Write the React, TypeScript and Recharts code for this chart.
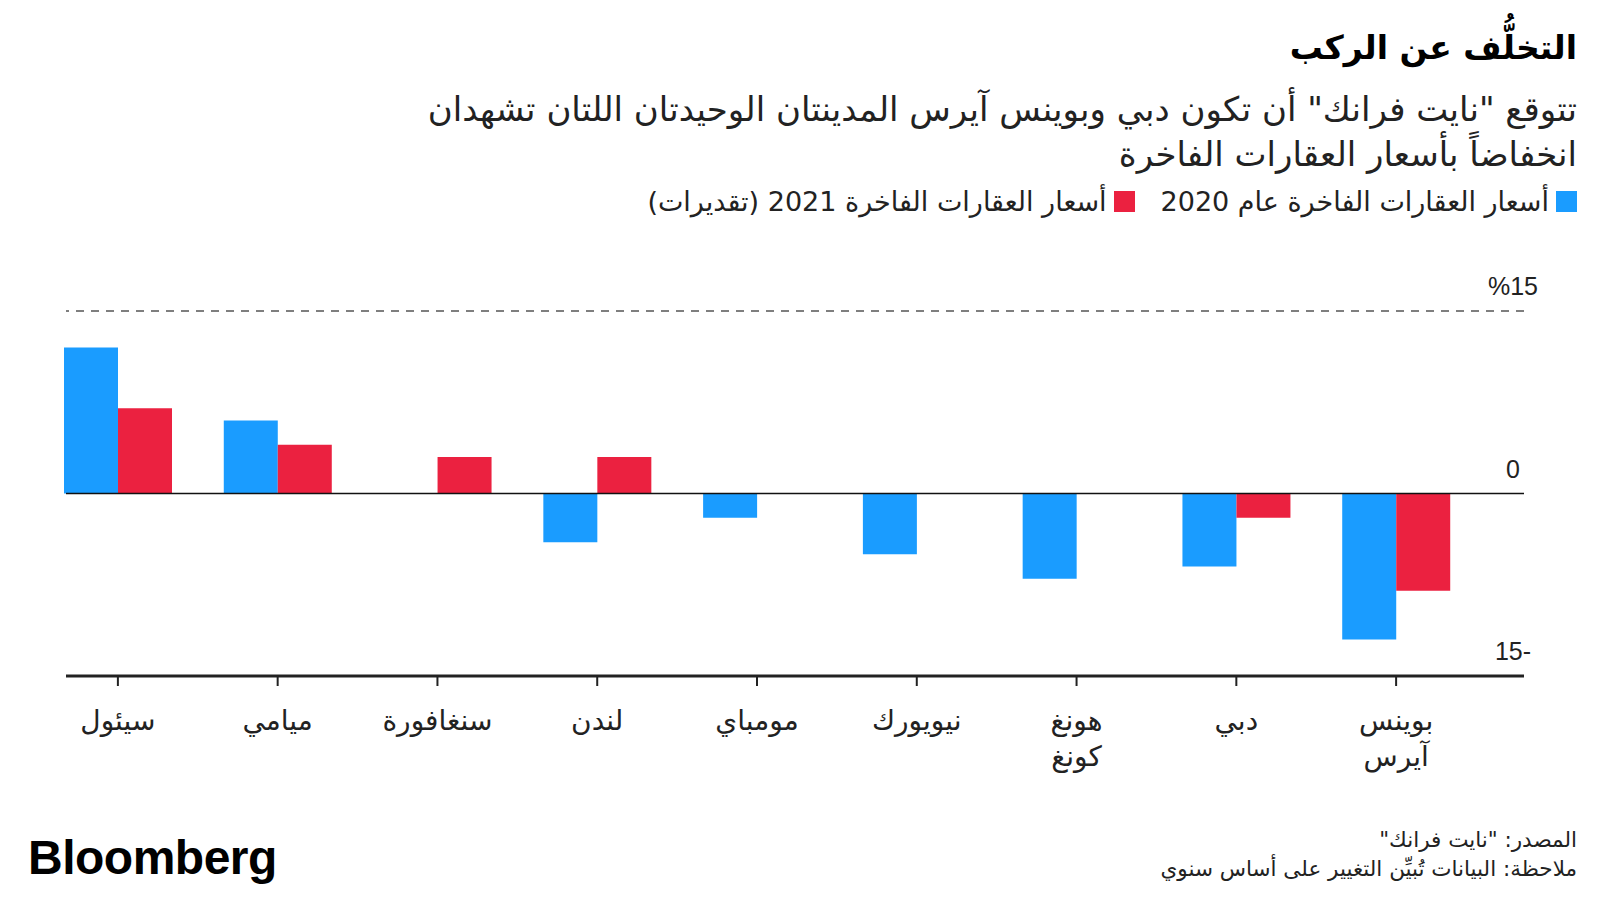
import React from 'react';
import { BarChart, Bar, XAxis, YAxis, ReferenceLine } from 'recharts';

const cities = ['سيئول', 'ميامي', 'سنغافورة', 'لندن', 'مومباي', 'نيويورك', 'هونغ كونغ', 'دبي', 'بوينس آيرس'];
const prices2020 = [12, 6, 0, -4, -2, -5, -7, -6, -12];
const prices2021 = [7, 4, 3, 3, 0, 0, 0, -2, -8];
const yTicks = [-15, 0, 15];
const yTickLabels = ['15-', '0', '%15'];
const seriesNames = ['أسعار العقارات الفاخرة عام 2020', 'أسعار العقارات الفاخرة 2021 (تقديرات)'];
const seriesColors = ['#1a9cff', '#eb2140'];

const title = 'التخلُّف عن الركب';
const subtitle1 = 'تتوقع "نايت فرانك" أن تكون دبي وبوينس آيرس المدينتان الوحيدتان اللتان تشهدان';
const subtitle2 = 'انخفاضاً بأسعار العقارات الفاخرة';
const source = 'المصدر: "نايت فرانك"';
const note = 'ملاحظة: البيانات تُبيِّن التغيير على أساس سنوي';

const data = cities.map((c, i) => ({ city: c, v2020: prices2020[i], v2021: prices2021[i] }));

const AR = "'DejaVu Sans', sans-serif";

const XTick = (props: any) => {
  const { x, y, payload } = props;
  const lines = String(payload.value).split(' ');
  return (
    <g>
      {lines.map((l, i) => (
        <text key={i} x={x} y={y + 42 + i * 36} textAnchor="middle" fontFamily={AR} fontSize={28} fill="#222" direction="rtl">
          {l}
        </text>
      ))}
    </g>
  );
};

const YTick = (props: any) => {
  const { y, payload } = props;
  const idx = yTicks.indexOf(payload.value);
  return (
    <text x={1513} y={y - 16} textAnchor="middle" fontFamily="'Liberation Sans', Arial, sans-serif" fontSize={25} fill="#222">
      {yTickLabels[idx]}
    </text>
  );
};

export default function App() {
  return (
    <div style={{ position: 'absolute', left: 0, top: 0, width: 1600, height: 900, background: '#fff', overflow: 'hidden' }}>
      <div dir="rtl" style={{ position: 'absolute', right: 23, top: 28, fontFamily: AR, fontWeight: 'bold', fontSize: 33, color: '#000', whiteSpace: 'nowrap' }}>
        {title}
      </div>
      <div dir="rtl" style={{ position: 'absolute', right: 23, top: 87, fontFamily: AR, fontSize: 34, lineHeight: '45px', color: '#222', whiteSpace: 'nowrap' }}>
        <div>{subtitle1}</div>
        <div>{subtitle2}</div>
      </div>
      <div dir="rtl" style={{ position: 'absolute', right: 23, top: 186, display: 'flex', alignItems: 'center', fontFamily: AR, fontSize: 27, color: '#222', whiteSpace: 'nowrap' }}>
        {seriesNames.map((n, i) => (
          <div key={i} style={{ display: 'flex', alignItems: 'center', marginLeft: 26 }}>
            <span style={{ display: 'inline-block', width: 21, height: 21, background: seriesColors[i], marginLeft: 7 }} />
            <span>{n}</span>
          </div>
        ))}
      </div>

      <div style={{ position: 'absolute', left: 0, top: 0 }}>
        <BarChart width={1600} height={900} data={data} margin={{ top: 311, right: 0, bottom: 144, left: 66 }} barGap={0} barSize={54}>
          <XAxis
            dataKey="city"
            height={80}
            padding={{ left: -28, right: 48 }}
            axisLine={{ stroke: '#222', strokeWidth: 3 }}
            tickLine={{ stroke: '#222', strokeWidth: 2 }}
            tickSize={10}
            tick={<XTick />}
            interval={0}
          />
          <YAxis
            orientation="right"
            width={76}
            domain={[-15, 15]}
            ticks={yTicks}
            axisLine={false}
            tickLine={false}
            tick={<YTick />}
            allowDataOverflow
          />
          <ReferenceLine y={15} stroke="#555" strokeWidth={1.5} strokeDasharray="8 7" />
          <Bar dataKey="v2020" fill={seriesColors[0]} isAnimationActive={false} />
          <Bar dataKey="v2021" fill={seriesColors[1]} isAnimationActive={false} />
          <ReferenceLine y={0} stroke="#111" strokeWidth={1.5} />
        </BarChart>
      </div>

      <div style={{ position: 'absolute', left: 28, top: 830, fontFamily: "'Liberation Sans', Arial, sans-serif", fontWeight: 'bold', fontSize: 48, letterSpacing: -0.5, color: '#000' }}>
        Bloomberg
      </div>
      <div dir="rtl" style={{ position: 'absolute', right: 23, top: 825, fontFamily: AR, fontSize: 21.5, lineHeight: '29px', color: '#222', whiteSpace: 'nowrap' }}>
        <div>{source}</div>
        <div>{note}</div>
      </div>
    </div>
  );
}
